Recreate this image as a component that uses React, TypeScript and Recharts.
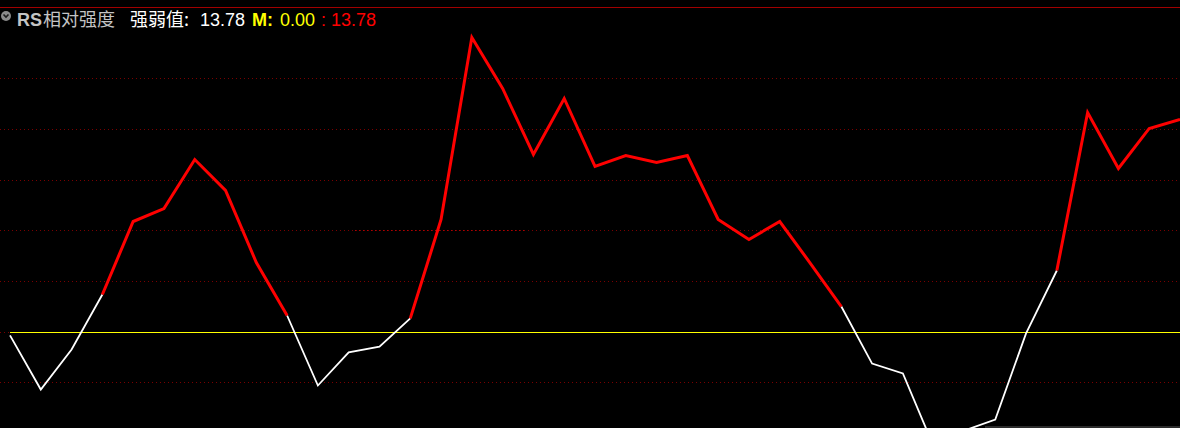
import React from 'react';
import { LineChart, Line, XAxis, YAxis, CartesianGrid, ReferenceLine } from 'recharts';

// RS 相对强度 values, one per bar
const rsValues = [
  -0.19, -3.69, -1.1, 2.46, 7.18, 8.02, 11.19, 9.19, 4.53, 1.1,
  -3.43, -1.29, -0.91, 0.91, 7.31, 19.09, 15.79, 11.52, 15.14, 10.74,
  11.45, 11.0, 11.45, 7.31, 6.02, 7.18, 4.46, 1.68, -2.01, -2.65,
  -7.38, -6.34, -5.63, -0.06, 4.01, 14.23, 10.61, 13.2, 13.78
];

// 1 = segment drawn red (strong), 0 = white
const segmentStrong = [
  0, 0, 0, 1, 1, 1, 1, 1, 1, 0, 0, 0, 0, 1, 1, 1, 1, 1, 1, 1,
  1, 1, 1, 1, 1, 1, 1, 0, 0, 0, 0, 0, 0, 0, 1, 1, 1, 1
];

const gridTicks = [-3.23, 0, 3.3, 6.6, 9.83, 13.13, 16.43];
const maValue = 0;
const highlightSpan = [11.2, 16.73];

const Y_DOMAIN: [number, number] = [-6.179, 21.058];
const X_DOMAIN: [number, number] = [-0.325, 38];

const chartData = rsValues.map((v, i) => {
  const prevRed = i > 0 && segmentStrong[i - 1] === 1;
  const nextRed = i < segmentStrong.length && segmentStrong[i] === 1;
  const prevWhite = i > 0 && segmentStrong[i - 1] === 0;
  const nextWhite = i < segmentStrong.length && segmentStrong[i] === 0;
  return {
    i,
    red: prevRed || nextRed ? v : null,
    white: prevWhite || nextWhite ? v : null
  };
});

const Header = () => (
  <svg width={1180} height={40} style={{ position: 'absolute', left: 0, top: 0 }}>
    <line x1={0} x2={1180} y1={7.5} y2={7.5} stroke="#a00000" strokeWidth={1} />
    <circle cx={6} cy={16} r={5} fill="#8a8a8a" />
    <path d="M3.5 14.5 L6 17 L8.5 14.5" stroke="#1a1a1a" strokeWidth={1.6} fill="none" />
    <g fontFamily="'Liberation Sans', Arial, 'Noto Sans CJK SC', sans-serif" fontSize={18}>
      <text x={17} y={26} fill="#c4c4c4" fontWeight="bold">RS</text>
      <text x={43} y={26} fill="#c4c4c4" fontFamily="'Noto Sans CJK SC', sans-serif" fontSize={18}>相对强度</text>
      <text x={130} y={26} fill="#ffffff" fontFamily="'Noto Sans CJK SC', sans-serif" fontSize={18}>强弱值:</text>
      <text x={200} y={26} fill="#ffffff">13.78</text>
      <text x={252} y={26} fill="#ffff00" fontWeight="bold">M:</text>
      <text x={280} y={26} fill="#ffff00">0.00</text>
      <text x={321} y={26} fill="#ff0000">: 13.78</text>
    </g>
  </svg>
);

export default function App() {
  return (
    <div style={{ position: 'fixed', left: 0, top: 0, width: 1180, height: 428, background: '#000', overflow: 'hidden' }}>
      <LineChart width={1180} height={428} data={chartData} margin={{ top: 7, right: 0, bottom: 0, left: 0 }}>
        <CartesianGrid vertical={false} stroke="#7a0000" strokeDasharray="1 3" shapeRendering="crispEdges" />
        <XAxis dataKey="i" type="number" domain={X_DOMAIN} hide allowDataOverflow />
        <YAxis type="number" domain={Y_DOMAIN} ticks={gridTicks} hide allowDataOverflow />
        <ReferenceLine
          segment={[{ x: highlightSpan[0], y: gridTicks[3] }, { x: highlightSpan[1], y: gridTicks[3] }]}
          stroke="#b00000"
          strokeDasharray="1 3"
          shapeRendering="crispEdges"
        />
        <ReferenceLine
          segment={[{ x: 0, y: maValue }, { x: 38, y: maValue }]}
          stroke="#ffff00"
          strokeWidth={1}
          shapeRendering="crispEdges"
        />
        <Line
          type="linear"
          dataKey="white"
          stroke="#ffffff"
          strokeWidth={1.8}
          dot={false}
          connectNulls={false}
          isAnimationActive={false}
        />
        <Line
          type="linear"
          dataKey="red"
          stroke="#ff0000"
          strokeWidth={3}
          dot={false}
          connectNulls={false}
          isAnimationActive={false}
        />
      </LineChart>
      <Header />
      <div style={{ position: 'absolute', left: 985, top: 426, width: 195, height: 2, background: '#2c2c2c' }} />
    </div>
  );
}
